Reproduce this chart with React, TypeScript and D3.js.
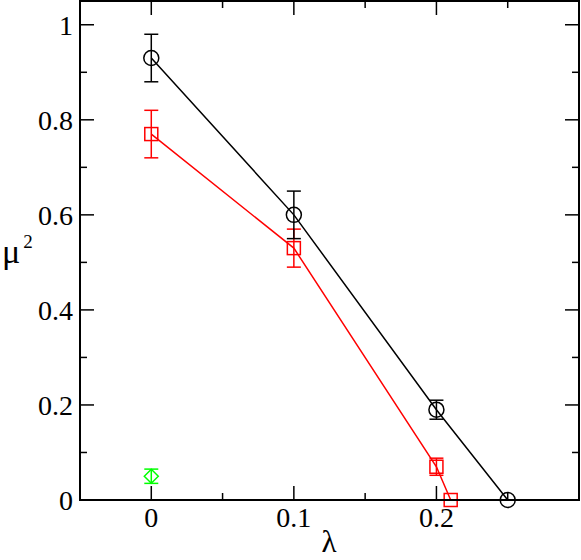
import React from 'react'
import * as d3 from 'd3'

// black circles
const circleX = [0, 0.1, 0.2, 0.25]
const circleY = [0.93, 0.6, 0.19, 0.0]
const circleErr = [0.05, 0.05, 0.02, 0]

// red squares
const squareX = [0, 0.1, 0.2, 0.21]
const squareY = [0.77, 0.53, 0.07, 0.0]
const squareErr = [0.05, 0.04, 0.018, 0]

// green diamond
const diamondX = [0]
const diamondY = [0.05]
const diamondErr = [0.015]

const xMajor = [0, 0.1, 0.2]
const xMinor = [-0.05, 0.05, 0.15, 0.25]
const yMajor = [0, 0.2, 0.4, 0.6, 0.8, 1]
const yMinor = [0.1, 0.3, 0.5, 0.7, 0.9]

const W = 581
const H = 560
const m = { left: 80, right: 2, top: 1, bottom: 60 }

export default function App() {
  const x = d3.scaleLinear().domain([-0.05, 0.3]).range([m.left, W - m.right])
  const y = d3.scaleLinear().domain([0, 1.05]).range([H - m.bottom, m.top])
  const font = "'Times New Roman', Times, 'Liberation Serif', Tinos, 'Noto Serif', 'DejaVu Serif', serif"

  const line = d3.line<number>()
  const pts = (xs: number[], ys: number[]) => xs.map((v, i) => [x(v), y(ys[i])] as [number, number])

  const errBars = (xs: number[], ys: number[], es: number[], color: string) =>
    xs.map((v, i) => es[i] > 0 ? (
      <g key={'e' + i} stroke={color} strokeWidth={1.5}>
        <line x1={x(v)} x2={x(v)} y1={y(ys[i] - es[i])} y2={y(ys[i] + es[i])} />
        <line x1={x(v) - 7} x2={x(v) + 7} y1={y(ys[i] - es[i])} y2={y(ys[i] - es[i])} />
        <line x1={x(v) - 7} x2={x(v) + 7} y1={y(ys[i] + es[i])} y2={y(ys[i] + es[i])} />
      </g>
    ) : null)

  const x0 = m.left, x1 = W - m.right, y0 = H - m.bottom, y1 = m.top

  return (
    <svg width={W} height={H} style={{ position: 'absolute', left: 0, top: 0, fontFamily: font }}>
      <rect width={W} height={H} fill="#fff" />
      {/* ticks */}
      <g stroke="#000" strokeWidth={1.5}>
        {xMajor.map(t => (
          <g key={'xM' + t}>
            <line x1={x(t)} x2={x(t)} y1={y0} y2={y0 - 14} />
            <line x1={x(t)} x2={x(t)} y1={y1} y2={y1 + 14} />
          </g>
        ))}
        {xMinor.map(t => (
          <g key={'xm' + t}>
            <line x1={x(t)} x2={x(t)} y1={y0} y2={y0 - 7} />
            <line x1={x(t)} x2={x(t)} y1={y1} y2={y1 + 7} />
          </g>
        ))}
        {yMajor.map(t => (
          <g key={'yM' + t}>
            <line x1={x0} x2={x0 + 14} y1={y(t)} y2={y(t)} />
            <line x1={x1} x2={x1 - 14} y1={y(t)} y2={y(t)} />
          </g>
        ))}
        {yMinor.map(t => (
          <g key={'ym' + t}>
            <line x1={x0} x2={x0 + 7} y1={y(t)} y2={y(t)} />
            <line x1={x1} x2={x1 - 7} y1={y(t)} y2={y(t)} />
          </g>
        ))}
      </g>
      <g fontSize={28} fill="#000">
        {xMajor.map(t => (
          <text key={'xl' + t} x={x(t)} y={y0 + 27} textAnchor="middle" fontFamily={font}>{d3.format('~g')(t)}</text>
        ))}
        {yMajor.map(t => (
          <text key={'yl' + t} x={x0 - 7} y={y(t) + 10} textAnchor="end" fontFamily={font}>{d3.format('~g')(t)}</text>
        ))}
        <text x={329} y={552} textAnchor="middle" fontSize={31} fontFamily={font}>λ</text>
        <text x={2} y={263} fontSize={34} fontFamily={font}>μ<tspan dx={3} dy={-15} fontSize={19}>2</tspan></text>
      </g>

      {/* red series */}
      <path d={line(pts(squareX, squareY)) || ''} fill="none" stroke="#ff0000" strokeWidth={1.5} />
      {errBars(squareX, squareY, squareErr, '#ff0000')}
      {squareX.map((v, i) => (
        <rect key={'s' + i} x={x(v) - 6.5} y={y(squareY[i]) - 6.5} width={13} height={13}
          fill="none" stroke="#ff0000" strokeWidth={1.5} />
      ))}

      {/* black series */}
      <path d={line(pts(circleX, circleY)) || ''} fill="none" stroke="#000" strokeWidth={1.5} />
      {errBars(circleX, circleY, circleErr, '#000')}
      {circleX.map((v, i) => (
        <circle key={'c' + i} cx={x(v)} cy={y(circleY[i])} r={7.5} fill="none" stroke="#000" strokeWidth={1.5} />
      ))}

      {/* green */}
      {errBars(diamondX, diamondY, diamondErr, '#00ff00')}
      {diamondX.map((v, i) => {
        const cx = x(v), cy = y(diamondY[i])
        return <path key={'d' + i} d={`M${cx - 7},${cy}L${cx},${cy - 7}L${cx + 7},${cy}L${cx},${cy + 7}Z`}
          fill="none" stroke="#00ff00" strokeWidth={1.5} />
      })}

      <rect x={x0} y={y1} width={x1 - x0} height={y0 - y1} fill="none" stroke="#000" strokeWidth={2} />
    </svg>
  )
}
